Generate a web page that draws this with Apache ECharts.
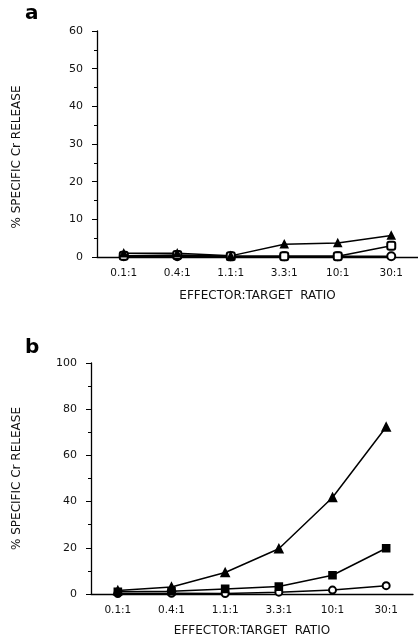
<!DOCTYPE html>
<html>
<head>
<meta charset="utf-8">
<script src="https://cdn.jsdelivr.net/npm/echarts@6/dist/echarts.min.js"></script>
<style>
html,body{margin:0;padding:0;background:#fff;}
#c{width:418px;height:641px;}
</style>
</head>
<body>
<div id="c"></div>
<script>
const categories = ['0.1:1', '0.4:1', '1.1:1', '3.3:1', '10:1', '30:1'];
// Panel a
const aTriangle = [1.0, 1.0, 0.3, 3.4, 3.7, 5.7];
const aSquare = [0.3, 0.5, 0.2, 0.2, 0.2, 3.0];
const aCircle = [0.2, 0.2, 0.2, 0.2, 0.2, 0.2];
// Panel b
const bTriangle = [1.5, 3.0, 9.3, 19.6, 41.8, 72.3];
const bSquare = [1.0, 1.2, 2.2, 3.2, 8.1, 19.8];
const bCircle = [0.2, 0.3, 0.2, 0.8, 1.7, 3.6];

const yTitle = '% SPECIFIC Cr RELEASE';
const xTitle = 'EFFECTOR:TARGET  RATIO';
const FONT = 'DejaVu Sans';

const chart = echarts.init(document.getElementById('c'), null, {renderer: 'canvas'});

function xAxis(gridIndex, nameGap) {
  return {
    type: 'category', gridIndex, data: categories, boundaryGap: true,
    name: xTitle, nameLocation: 'middle', nameGap,
    nameTextStyle: {fontFamily: FONT, fontSize: 12, color: '#111'},
    axisLine: {lineStyle: {color: '#000', width: 1.3}},
    axisTick: {alignWithLabel: true, length: 3, lineStyle: {color: '#000'}},
    axisLabel: {fontFamily: FONT, fontSize: 10.5, color: '#111', margin: 11},
    splitLine: {show: false}
  };
}
function yAxis(gridIndex, max, interval, nameGap, padding) {
  return {
    type: 'value', gridIndex, min: 0, max, interval,
    name: yTitle, nameLocation: 'middle', nameGap,
    nameTextStyle: {fontFamily: FONT, fontSize: 12, color: '#111', padding},
    axisLine: {show: true, lineStyle: {color: '#000', width: 1.3}},
    axisTick: {show: true, length: 5, lineStyle: {color: '#000'}},
    minorTick: {show: true, splitNumber: 2, length: 3, lineStyle: {color: '#000'}},
    axisLabel: {fontFamily: FONT, fontSize: 11, color: '#111', margin: 14},
    splitLine: {show: false}
  };
}
function series(xi, data, symbol, size) {
  return {
    type: 'line', xAxisIndex: xi, yAxisIndex: xi, data,
    symbol, symbolSize: size, showSymbol: true,
    lineStyle: {color: '#000', width: 1.5},
    itemStyle: {color: '#000', borderColor: '#000', borderWidth: 1.6},
    emphasis: {disabled: true},
    animation: false, z: 3
  };
}

chart.setOption({
  animation: false,
  backgroundColor: '#fff',
  grid: [
    {left: 97, top: 31, right: 0, height: 226, outerBoundsMode: 'none', containLabel: false},
    {left: 91, top: 363, right: 5, height: 231, outerBoundsMode: 'none', containLabel: false}
  ],
  xAxis: [xAxis(0, 33), xAxis(1, 31)],
  yAxis: [yAxis(0, 60, 10, 74, [0, 26, 0, 0]), yAxis(1, 100, 20, 68, [0, 0, 0, 0])],
  graphic: [
    {type: 'text', left: 25, top: 4, style: {text: 'a', fontFamily: FONT, fontWeight: 'bold', fontSize: 20, fill: '#000'}},
    {type: 'text', left: 25, top: 338, style: {text: 'b', fontFamily: FONT, fontWeight: 'bold', fontSize: 20, fill: '#000'}}
  ],
  series: [
    series(0, aCircle, 'emptyCircle', 8),
    series(0, aSquare, 'emptyRoundRect', 8),
    series(0, aTriangle, 'triangle', 7),
    series(1, bCircle, 'emptyCircle', 7),
    series(1, bSquare, 'rect', 7),
    series(1, bTriangle, 'triangle', 8)
  ]
});
</script>
</body>
</html>
